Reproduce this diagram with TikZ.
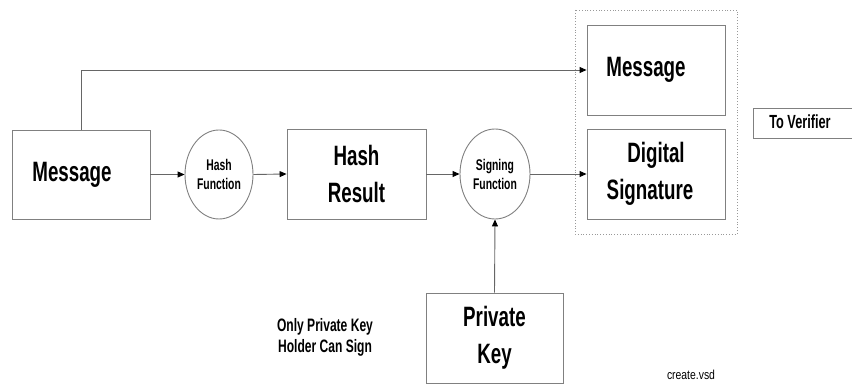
\documentclass[tikz,border=0pt]{standalone}
\usepackage{fontspec}
\setmainfont{Liberation Sans}
\newfontfamily\nb[FakeStretch=0.67]{Liberation Sans}
\usetikzlibrary{arrows.meta,shapes.geometric}

\tikzset{
  box/.style={draw=black!50, line width=0.9pt, rectangle, minimum width=138pt,
    minimum height=89pt, inner sep=0pt, align=center,
    font=\nb\bfseries\fontsize{28}{37}\selectfont},
  fn/.style={draw=black!50, line width=0.9pt, ellipse, inner sep=0pt, align=center,
    font=\nb\bfseries\fontsize{15.5}{19}\selectfont},
  link/.style={draw=black!60, line width=0.9pt,
    -{Triangle[length=7pt,width=6pt,color=black]}},
  note/.style={align=center, inner sep=0pt}
}

\begin{document}
\begin{tikzpicture}[x=1pt,y=-1pt]
\useasboundingbox (0,0) rectangle (852,385);

% outgoing package: message plus signature
\draw[black!40, dotted, line width=0.8pt] (575,10) rectangle (737,234);

\node[box] (msgL) at (81,174.5) {Message\hspace*{18pt}};
\node[fn, minimum width=68pt, minimum height=89pt] (hashF) at (219,174.5) {Hash\\Function};
\node[box, minimum width=139pt, minimum height=90pt] (hashR) at (356.5,174) {Hash\\Result};
\node[fn, minimum width=70pt, minimum height=90pt] (signF) at (495,174) {Signing\\Function};
\node[box, minimum width=137pt, minimum height=90pt] (privK) at (494.5,338) {Private\\Key};
\node[box, minimum height=90pt] (msgR) at (656,70) {Message\hspace*{20pt}};
\node[box, minimum height=90pt] (digS) at (656,174) {Digital\\Signature\hspace*{12pt}};

% flow arrows
\draw[link] (msgL.east) -- (hashF.west);
\draw[link] (hashF.east) -- (hashR.west);
\draw[link] (hashR.east) -- (signF.west);
\draw[link] (signF.east) -- (digS.west);
\draw[link] (privK.north) -- (signF.south);
\draw[link] (msgL.north) |- (msgR.west);

% block arrow towards the verifier
\draw[black!50, line width=0.9pt] (852,94) -- (852,108) -- (753,108) -- (753,138) -- (852,138) -- (852,152);
\node[note, font=\nb\bfseries\fontsize{19}{22}\selectfont] (toV) at (800,122) {To Verifier};

\node[note, font=\nb\bfseries\fontsize{18}{21}\selectfont] (only) at (325,337) {Only Private Key\\Holder Can Sign};
\node[note, font=\fontsize{13}{15}\selectfont, xscale=0.8] (file) at (691,375) {create.vsd};
\end{tikzpicture}
\end{document}
